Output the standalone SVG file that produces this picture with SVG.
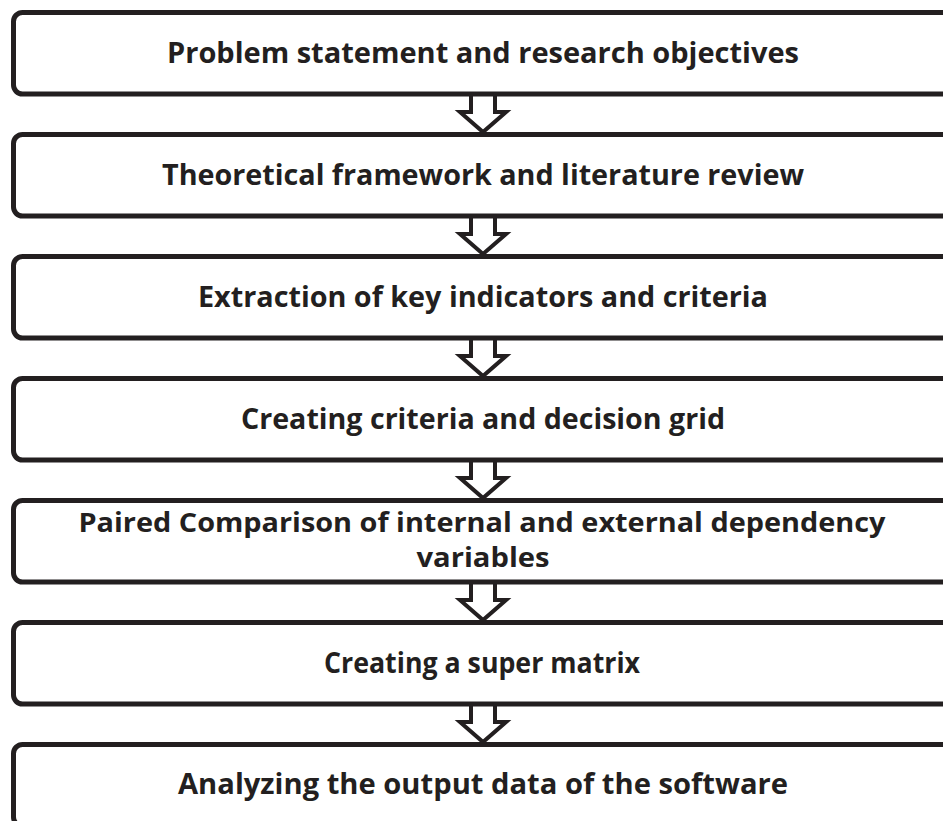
<svg xmlns="http://www.w3.org/2000/svg" width="943" height="821" viewBox="0 0 943 821">
<defs>
<style>
.box{fill:#fff;stroke:#231f20;stroke-width:5}
.arr{fill:#fff;stroke:#231f20;stroke-width:4;stroke-linejoin:miter}
.t{font-family:"Open Sans","Liberation Sans",sans-serif;font-weight:bold;font-size:28px;fill:#231f20;text-anchor:middle}
.t2{font-size:26px}
</style>
<polygon id="ar" class="arr" points="-12,0 12,0 12,18 23,18 0,38 -23,18 -12,18 -12,0"/>
</defs>
<rect width="943" height="821" fill="#fff"/>
<g id="connectors">
<use href="#ar" x="483" y="94"/>
<use href="#ar" x="483" y="216"/>
<use href="#ar" x="483" y="338"/>
<use href="#ar" x="483" y="460"/>
<use href="#ar" x="483" y="582"/>
<use href="#ar" x="483" y="704"/>
</g>
<g id="n1"><rect class="box" x="13.5" y="12.5" width="960" height="81.5" rx="9"/><text class="t" x="483" y="62.5" textLength="632" lengthAdjust="spacingAndGlyphs">Problem statement and research objectives</text></g>
<g id="n2"><rect class="box" x="13.5" y="134.5" width="960" height="81.5" rx="9"/><text class="t" x="483" y="184.5" textLength="642" lengthAdjust="spacingAndGlyphs">Theoretical framework and literature review</text></g>
<g id="n3"><rect class="box" x="13.5" y="256.5" width="960" height="81.5" rx="9"/><text class="t" x="483" y="306.5" textLength="570" lengthAdjust="spacingAndGlyphs">Extraction of key indicators and criteria</text></g>
<g id="n4"><rect class="box" x="13.5" y="378.5" width="960" height="81.5" rx="9"/><text class="t" x="483" y="428.5" textLength="484" lengthAdjust="spacingAndGlyphs">Creating criteria and decision grid</text></g>
<g id="n5"><rect class="box" x="13.5" y="500.5" width="960" height="81.5" rx="9"/><text class="t t2" x="482" y="532" textLength="807" lengthAdjust="spacingAndGlyphs">Paired Comparison of internal and external  dependency</text><text class="t t2" x="483" y="567" textLength="133" lengthAdjust="spacingAndGlyphs">variables</text></g>
<g id="n6"><rect class="box" x="13.5" y="622.5" width="960" height="81.5" rx="9"/><text class="t" x="482" y="672.5" textLength="316" lengthAdjust="spacingAndGlyphs">Creating a super matrix</text></g>
<g id="n7"><rect class="box" x="13.5" y="744.5" width="960" height="81.5" rx="9"/><text class="t" x="483" y="794" textLength="610" lengthAdjust="spacingAndGlyphs">Analyzing the output data of the software</text></g>
</svg>
